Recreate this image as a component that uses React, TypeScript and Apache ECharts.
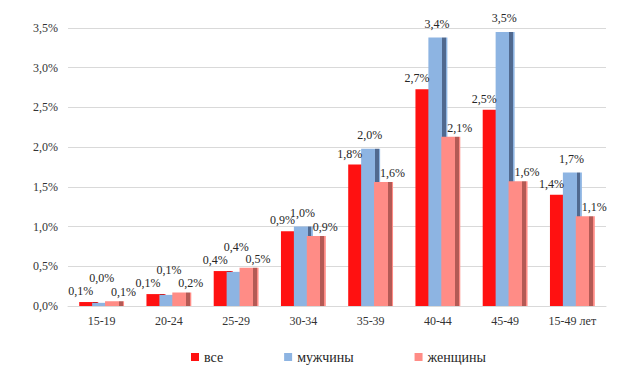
import React, { useEffect, useRef } from "react";
import * as echarts from "echarts";

const categories = ["15-19", "20-24", "25-29", "30-34", "35-39", "40-44", "45-49", "15-49 лет"];
const seriesNames = ["все", "мужчины", "женщины"];
const allValues = [0.05, 0.15, 0.44, 0.94, 1.78, 2.73, 2.47, 1.4];
const menValues = [0.04, 0.14, 0.43, 1.0, 1.98, 3.38, 3.45, 1.68];
const womenValues = [0.06, 0.17, 0.48, 0.88, 1.56, 2.13, 1.57, 1.13];
const yTicks = { min: 0, max: 3.5, interval: 0.5 };

const FONT = "Liberation Serif";

const fmt = (v: number) => v.toFixed(1).replace(".", ",") + "%";

function stripFill(main: string, dark: string) {
  return new echarts.graphic.LinearGradient(0, 0, 1, 0, [
    { offset: 0, color: main },
    { offset: 0.72, color: main },
    { offset: 0.72, color: dark },
    { offset: 0.92, color: dark },
    { offset: 0.92, color: main },
    { offset: 1, color: main },
  ]);
}

export default function App() {
  const ref = useRef<HTMLDivElement>(null);
  useEffect(() => {
    document.body.style.margin = "0";
    if (!ref.current) return;
    const chart = echarts.init(ref.current, undefined, { renderer: "svg" });
    const mk = (
      name: string,
      values: number[],
      main: string,
      dark: string,
      offset: number[],
      smallLift: number
    ) => ({
      name,
      type: "bar",
      data: values.map((v) =>
        v < 0.6 && smallLift ? { value: v, label: { offset: [offset[0] + 1, offset[1] - smallLift] } } : v
      ),
      barWidth: 19,
      barGap: "-32%",
      itemStyle: { color: stripFill(main, dark) },
      label: {
        show: true,
        position: "top",
        distance: 5,
        offset,
        formatter: (p: any) => fmt(p.value),
        fontFamily: FONT,
        fontSize: 12,
        color: "#262626",
      },
    });
    chart.setOption({
      animation: false,
      textStyle: { fontFamily: FONT },
      grid: { left: 68, right: 21, top: 28, bottom: 59 },
      legend: {
        data: seriesNames.map((n, i) => ({
          name: n,
          itemStyle: { color: ["#FF1111", "#8DB4E2", "#FF8C86"][i] },
        })),
        left: 186,
        top: 345,
        icon: "rect",
        itemWidth: 8,
        itemHeight: 8,
        itemGap: 61,
        textStyle: { fontFamily: FONT, fontSize: 14, color: "#262626" },
      },
      xAxis: {
        type: "category",
        data: categories,
        axisTick: { show: false },
        axisLine: { lineStyle: { color: "#D9D9D9", width: 1 } },
        axisLabel: { fontFamily: FONT, fontSize: 12, color: "#333333", margin: 9 },
      },
      yAxis: {
        type: "value",
        min: yTicks.min,
        max: yTicks.max,
        interval: yTicks.interval,
        axisLine: { show: false },
        axisTick: { show: false },
        splitLine: { lineStyle: { color: "#D9D9D9", width: 1 } },
        axisLabel: {
          fontFamily: FONT,
          fontSize: 12,
          color: "#333333",
          margin: 10,
          formatter: (v: number) => fmt(v),
        },
      },
      series: [
        mk(seriesNames[0], allValues, "#FF1111", "#C00000", [-8, 0], 0),
        mk(seriesNames[1], menValues, "#8DB4E2", "#50698F", [-1, -3], 11),
        mk(seriesNames[2], womenValues, "#FF8C86", "#B45A55", [9, 2], 0),
      ],
    });
    return () => chart.dispose();
  }, []);
  return <div ref={ref} style={{ width: 627, height: 365 }} />;
}
